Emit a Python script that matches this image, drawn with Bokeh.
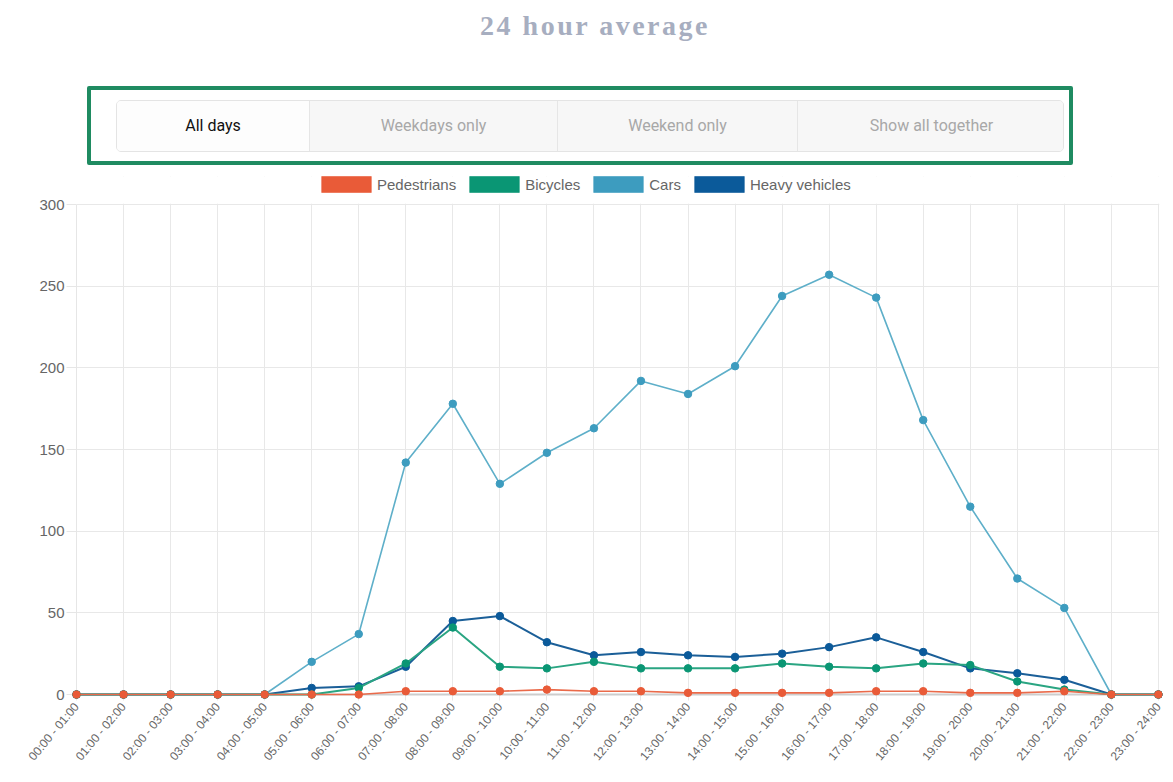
import math
from bokeh.plotting import figure
from bokeh.models import (ColumnDataSource, FixedTicker, Legend, LegendItem, Div, Range1d, BoxAnnotation)
from bokeh.layouts import column
from bokeh.embed import file_html
from bokeh.resources import INLINE

# ---------------- data ----------------
categories = [
    "00:00 - 01:00", "01:00 - 02:00", "02:00 - 03:00", "03:00 - 04:00",
    "04:00 - 05:00", "05:00 - 06:00", "06:00 - 07:00", "07:00 - 08:00",
    "08:00 - 09:00", "09:00 - 10:00", "10:00 - 11:00", "11:00 - 12:00",
    "12:00 - 13:00", "13:00 - 14:00", "14:00 - 15:00", "15:00 - 16:00",
    "16:00 - 17:00", "17:00 - 18:00", "18:00 - 19:00", "19:00 - 20:00",
    "20:00 - 21:00", "21:00 - 22:00", "22:00 - 23:00", "23:00 - 24:00",
]
pedestrians = [0, 0, 0, 0, 0, 0, 0, 2, 2, 2, 3, 2, 2, 1, 1, 1, 1, 2, 2, 1, 1, 2, 0, 0]
bicycles = [0, 0, 0, 0, 0, 0, 4, 19, 41, 17, 16, 20, 16, 16, 16, 19, 17, 16, 19, 18, 8, 3, 0, 0]
cars = [0, 0, 0, 0, 0, 20, 37, 142, 178, 129, 148, 163, 192, 184, 201, 244, 257, 243, 168, 115, 71, 53, 0, 0]
heavy_vehicles = [0, 0, 0, 0, 0, 4, 5, 17, 45, 48, 32, 24, 26, 24, 23, 25, 29, 35, 26, 16, 13, 9, 0, 0]

series_names = ["Pedestrians", "Bicycles", "Cars", "Heavy vehicles"]
y_ticks = [0, 50, 100, 150, 200, 250, 300]
buttons = ["All days", "Weekdays only", "Weekend only", "Show all together"]
title_text = "24 hour average"

# ---------------- styles ----------------
point_colors = {"Pedestrians": "#E95B38", "Bicycles": "#0A9674", "Cars": "#3D9CBF", "Heavy vehicles": "#0B5A9A"}
line_colors = {"Pedestrians": "#EA6A4A", "Bicycles": "#2AA582", "Cars": "#5EAFC9", "Heavy vehicles": "#1B5F98"}
line_widths = {"Pedestrians": 1.6, "Bicycles": 2, "Cars": 1.6, "Heavy vehicles": 2}

W = 1157

title_div = Div(
    text=(
        f'<div style="width:{W}px;height:70px;text-align:center;box-sizing:border-box;padding-left:17px;">'
        f'<span style="display:inline-block;margin-top:1px;font-family:\'Liberation Serif\',serif;font-size:28px;'
        f'font-weight:600;line-height:34px;letter-spacing:2.5px;color:#a7aec0;">{title_text}</span></div>'
    ),
    width=W, height=70, margin=0,
)

seg_widths = [192, 248, 240, 268]
segs = []
for i, (lab, sw) in enumerate(zip(buttons, seg_widths)):
    bl = "border-left:1px solid #e6e6e6;" if i > 0 else ""
    bg = "#fdfdfd" if i == 0 else "#f7f7f7"
    col = "#111111" if i == 0 else "#a8a8a8"
    segs.append(
        f'<div style="box-sizing:border-box;flex:0 0 {sw}px;width:{sw}px;height:100%;display:flex;align-items:center;'
        f'justify-content:center;{bl}background:{bg};color:{col};font-family:Roboto,sans-serif;'
        f'font-size:16px;">{lab}</div>'
    )
buttons_div = Div(
    text=(
        f'<div style="width:{W}px;height:92px;box-sizing:border-box;padding-top:8px;overflow:visible;">'
        f'<div style="margin-left:79px;width:978px;height:71px;border:4px solid #1f8b61;border-radius:2px;'
        f'box-sizing:content-box;padding:0;">'
        f'<div style="margin-left:25px;margin-top:10px;width:948px;height:52px;box-sizing:border-box;'
        f'border:1px solid #e4e4e4;border-radius:5px;overflow:hidden;display:flex;background:#f7f7f7;">'
        + "".join(segs) + '</div></div></div>'
    ),
    width=W, height=92, margin=0,
)

# ---------------- chart ----------------
y_top = y_ticks[-1] * (1 + 28 / 490)   # room above the top gridline for the legend
p = figure(
    width=W, height=604,
    x_range=Range1d(0, (len(categories) - 1) * 1.001), y_range=Range1d(y_ticks[0], y_top),
    output_backend="svg", toolbar_location=None,
    min_border_left=68, min_border_right=6, min_border_top=6, min_border_bottom=80,
    background_fill_color="white", border_fill_color="white", outline_line_color=None,
    margin=0,
)

x_idx = list(range(len(categories)))
src = ColumnDataSource(dict(x=x_idx, Pedestrians=pedestrians, Bicycles=bicycles,
                            Cars=cars, **{"Heavy vehicles": heavy_vehicles}))

for name in ["Heavy vehicles", "Cars", "Bicycles", "Pedestrians"]:
    p.line("x", name, source=src, line_color=line_colors[name], line_width=line_widths[name], level="overlay")
    p.scatter("x", name, source=src, size=7.5, fill_color=point_colors[name],
              line_color=point_colors[name], line_width=1, level="overlay")

# hide vertical gridlines above the top tick
p.add_layout(BoxAnnotation(bottom=y_ticks[-1] + 0.5, fill_color="white", fill_alpha=1.0,
                           line_color=None, level="underlay"))

# legend swatches (hidden bar renderers of each series, used only for the legend box)
items = []
for name in series_names:
    r = p.vbar(x="x", top=name, width=0.5, source=src, fill_color=point_colors[name],
               line_color=point_colors[name], line_alpha=0.6, visible=False)
    items.append(LegendItem(label=name, renderers=[r]))

legend = Legend(
    items=items, orientation="horizontal", location=(239, 500),
    glyph_width=62, glyph_height=20, label_height=20, label_standoff=0, spacing=7,
    padding=0, margin=0, border_line_color=None, background_fill_alpha=0,
    label_text_font="Liberation Sans", label_text_font_size="15px", label_text_color="#666666",
)
p.add_layout(legend, "center")

# axes
p.xaxis.ticker = FixedTicker(ticks=x_idx)
p.xaxis.major_label_overrides = {i: c for i, c in enumerate(categories)}
p.xaxis.major_label_orientation = math.radians(50)
p.yaxis.ticker = FixedTicker(ticks=y_ticks)
p.yaxis.bounds = (y_ticks[0], y_ticks[-1])

for ax in (p.xaxis[0], p.yaxis[0]):
    ax.major_label_text_font = "Liberation Sans"
    ax.major_label_text_color = "#666666"
    ax.minor_tick_line_color = None
    ax.major_tick_line_color = "#e6e6e6"
    ax.major_tick_in = 0

p.xaxis.major_label_text_font_size = "12px"
p.xaxis.major_tick_out = 6
p.xaxis.major_label_standoff = 4
p.xaxis.axis_line_color = "#cdcdcd"
p.xaxis.axis_line_width = 2

p.yaxis.major_label_text_font_size = "15px"
p.yaxis.major_tick_out = 10
p.yaxis.major_label_standoff = 2
p.yaxis.axis_line_color = "#e6e6e6"

p.xgrid.grid_line_color = "#e8e8e8"
p.ygrid.grid_line_color = "#e8e8e8"

layout = column(title_div, buttons_div, p, spacing=0, margin=(8, 8, 0, 8))

open("out.html", "w").write(file_html(layout, INLINE, title="24 hour average"))
